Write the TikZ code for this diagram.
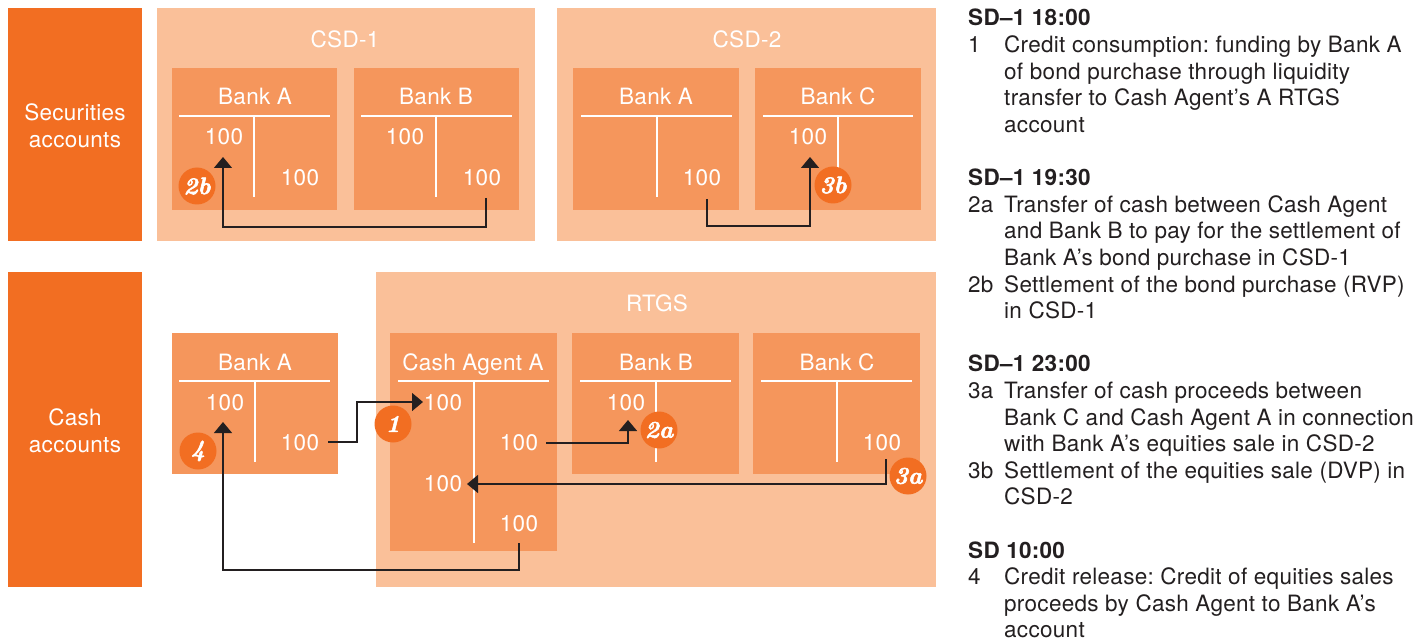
\documentclass[tikz,border=0pt]{standalone}
\usepackage{fontspec}
\setsansfont{TeX Gyre Heros}[LetterSpace=1.3]
\newfontfamily\badgefont{lmroman10-bolditalic.otf}[FakeBold=2.2]
\usetikzlibrary{arrows.meta}
\definecolor{dorange}{RGB}{242,110,34}
\definecolor{peach}{RGB}{250,192,153}
\definecolor{midor}{RGB}{245,150,92}
\definecolor{ink}{RGB}{35,31,32}
\frenchspacing
\begin{document}
\begin{tikzpicture}[x=1pt,y=-1pt,
  lab/.style={anchor=base, font=\sffamily\fontsize{22.5}{26}\selectfont, text=white, inner sep=0pt},
  tline/.style={white, line width=1.3pt},
  flow/.style={ink, line width=1.4pt, -{Triangle[width=18pt,length=11pt]}},
  badge/.style={circle, fill=dorange, text=white, minimum size=37pt, inner sep=0pt, font=\badgefont\fontsize{24}{24}\selectfont},
  hd/.style={anchor=base west, inner sep=0pt, text=ink, font=\sffamily\bfseries\fontsize{22.5}{26}\selectfont},
  ds/.style={anchor=base west, inner sep=0pt, text=ink, font=\sffamily\fontsize{22.5}{26}\selectfont},
]
\useasboundingbox (0,0) rectangle (1426,644);
% ---------- backgrounds ----------
\fill[dorange] (8,8) rectangle (142,241);
\fill[dorange] (8,272) rectangle (142,587);
\fill[peach] (157,8) rectangle (535,241);
\fill[peach] (557,8) rectangle (936,241);
\fill[peach] (376,272) rectangle (936,587);
% account boxes top
\fill[midor] (172,68) rectangle (337,210);
\fill[midor] (354,68) rectangle (519,210);
\fill[midor] (573,68) rectangle (739,210);
\fill[midor] (755,68) rectangle (921,210);
% account boxes bottom
\fill[midor] (172,333) rectangle (338,474);
\fill[midor] (390,333) rectangle (557,551);
\fill[midor] (572,333) rectangle (739,474);
\fill[midor] (753,333) rectangle (920,474);
% ---------- T lines ----------
\draw[tline] (179,116) -- (330,116) (254,116) -- (254,197);
\draw[tline] (361,116) -- (512,116) (436,116) -- (436,197);
\draw[tline] (581,116) -- (732,116) (657,116) -- (657,197);
\draw[tline] (763,116) -- (913,116) (838,116) -- (838,197);
\draw[tline] (179,381) -- (330,381) (255,381) -- (255,462);
\draw[tline] (398,381) -- (549,381) (474,381) -- (474,543);
\draw[tline] (580,381) -- (731,381) (656,381) -- (656,462);
\draw[tline] (761,381) -- (912,381) (837,381) -- (837,462);
% ---------- labels ----------
\node[lab] (sec1) at (75,121) {Securities};
\node[lab] (sec2) at (75,148) {accounts};
\node[lab] (cas1) at (75,425) {Cash};
\node[lab] (cas2) at (75,452) {accounts};
\node[lab] (csd1) at (345,48) {CSD-1};
\node[lab] (csd2) at (747,48) {CSD-2};
\node[lab] (rtgs) at (657,311) {RTGS};
\node[lab] (tA1) at (255,105) {Bank A};
\node[lab] (tB1) at (436,105) {Bank B};
\node[lab] (tA2) at (656,105) {Bank A};
\node[lab] (tC2) at (838,105) {Bank C};
\node[lab] (tAc) at (255,370) {Bank A};
\node[lab] (tCA) at (473,370) {Cash Agent A};
\node[lab] (tBc) at (656,370) {Bank B};
\node[lab] (tCc) at (837,370) {Bank C};
% numbers top
\node[lab] (nA1l) at (224,145) {100};
\node[lab] (nA1r) at (300,186) {100};
\node[lab] (nB1l) at (405,145) {100};
\node[lab] (nB1r) at (482,186) {100};
\node[lab] (nA2r) at (702,186) {100};
\node[lab] (nC2l) at (808,145) {100};
% numbers bottom
\node[lab] (nAcl) at (225,410) {100};
\node[lab] (nAcr) at (300,450) {100};
\node[lab] (nCA1) at (443,410) {100};
\node[lab] (nCA2) at (519,450) {100};
\node[lab] (nCA3) at (443,491) {100};
\node[lab] (nCA4) at (519,531) {100};
\node[lab] (nBcl) at (626,410) {100};
\node[lab] (nCcr) at (882,450) {100};
% ---------- connectors ----------
\coordinate (s2b) at (486,198); \coordinate (e2b) at (223,157);
\coordinate (s3b) at (707,199); \coordinate (e3b) at (810,157);
\coordinate (s1) at (328,442);  \coordinate (e1) at (423,402);
\coordinate (s2a) at (546,443); \coordinate (e2a) at (628,420);
\coordinate (s3a) at (886,459); \coordinate (e3a) at (467,484);
\coordinate (s4) at (519,543);  \coordinate (e4) at (223,422);
\draw[flow] (s2b) -- ++(0,29) -| (e2b);
\draw[flow] (s3b) -- ++(0,27) -| (e3b);
\draw[flow] (s1) -- ++(29,0) |- (e1);
\draw[flow] (s2a) -| (e2a);
\draw[flow] (s3a) |- (e3a);
\draw[flow] (s4) -- ++(0,27) -| (e4);
% ---------- badges ----------
\node[badge] (b2b) at (197,186) {2b};
\node[badge] (b3b) at (833,185) {3b};
\node[badge] (b1) at (393,424) {1};
\node[badge] (b4) at (198,451) {4};
\node[badge] (b2a) at (659,430) {2a};
\node[badge] (b3a) at (908,476) {3a};
% ---------- legend ----------
\node[hd] (h1) at (968,26) {SD–1 18:00};
\node[ds] (n1) at (968,52.6) {1};
\node[ds] (d1a) at (1004,52.6) {Credit consumption: funding by Bank A};
\node[ds] (d1b) at (1004,79.2) {of bond purchase through liquidity};
\node[ds] (d1c) at (1004,105.8) {transfer to Cash Agent’s A RTGS};
\node[ds] (d1d) at (1004,132.4) {account};
\node[hd] (h2) at (968,185.6) {SD–1 19:30};
\node[ds] (n2a) at (968,212.2) {2a};
\node[ds] (d2a) at (1004,212.2) {Transfer of cash between Cash Agent};
\node[ds] (d2b) at (1004,238.8) {and Bank B to pay for the settlement of};
\node[ds] (d2c) at (1004,265.4) {Bank A’s bond purchase in CSD-1};
\node[ds] (n2b) at (968,292) {2b};
\node[ds] (d2d) at (1004,292) {Settlement of the bond purchase (RVP)};
\node[ds] (d2e) at (1004,318.6) {in CSD-1};
\node[hd] (h3) at (968,371.8) {SD–1 23:00};
\node[ds] (n3a) at (968,398.4) {3a};
\node[ds] (d3a) at (1004,398.4) {Transfer of cash proceeds between};
\node[ds] (d3b) at (1004,425) {Bank C and Cash Agent A in connection};
\node[ds] (d3c) at (1004,451.6) {with Bank A’s equities sale in CSD-2};
\node[ds] (n3b) at (968,478.2) {3b};
\node[ds] (d3d) at (1004,478.2) {Settlement of the equities sale (DVP) in};
\node[ds] (d3e) at (1004,504.8) {CSD-2};
\node[hd] (h4) at (968,558) {SD 10:00};
\node[ds] (n4) at (968,584.6) {4};
\node[ds] (d4a) at (1004,584.6) {Credit release: Credit of equities sales};
\node[ds] (d4b) at (1004,611.2) {proceeds by Cash Agent to Bank A’s};
\node[ds] (d4c) at (1004,637.8) {account};
\end{tikzpicture}
\end{document}
